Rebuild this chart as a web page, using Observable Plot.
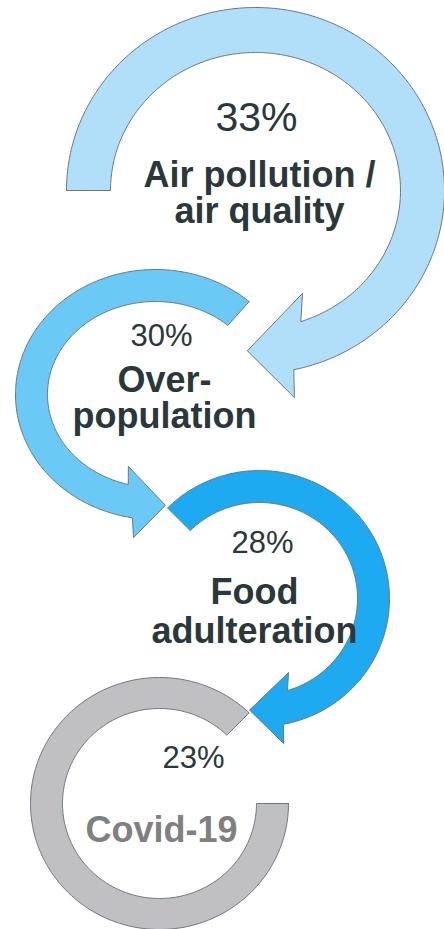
<!DOCTYPE html>
<html>
<head>
<meta charset="utf-8">
<script src="https://cdn.jsdelivr.net/npm/d3@7"></script>
<script src="https://cdn.jsdelivr.net/npm/@observablehq/plot@0.6"></script>
<style>
  html, body { margin: 0; padding: 0; background: #ffffff; }
  #chart { width: 444px; height: 929px; }
</style>
</head>
<body>
<div id="chart"></div>
<script>
// ---- data ----
const categories = ["Air pollution /\nair quality", "Over-\npopulation", "Food\nadulteration", "Covid-19"];
const values = [33, 30, 28, 23];

// ---- styles ----
const fills = ["#b1dff9", "#6bc9f6", "#1eaaf0", "#c0bfc1"];
const labelColors = ["#2b383a", "#2b383a", "#2b383a", "#808080"];
const outline = "#6a7880";

// ---- layout: curved-arrow geometry (ellipse centre, outer/inner radii, angles in degrees, screen convention) ----
const arrows = [
  {cx: 255, cy: 190, rxO: 189, ryO: 183, rxI: 145, ryI: 138, a0: 180, endOut: 438.3, endIn: 431.8,
   head: {wOutA: 439.7, wOutF: 1.15, tipA: 452.8, tipF: 1.0, wInA: 426.5, wInF: 0.813}},
  {cx: 155, cy: 394, rxO: 140, ryO: 125, rxI: 108, ryI: 93, a0: -48, endOut: -260.5, endIn: -255.4,
   head: {wOutA: -262.2, wOutF: 1.155, tipA: -274.5, tipF: 1.02, wInA: -252, wInF: 0.813}},
  {cx: 259, cy: 598, rxO: 130, ryO: 128, rxI: 98, ryI: 96, a0: 225, endOut: 439.4, endIn: 433.4,
   head: {wOutA: 440.7, wOutF: 1.148, tipA: 455, tipF: 1.0, wInA: 429, wInF: 0.826}},
  {cx: 159, cy: 803, rxO: 129, ryO: 126, rxI: 97, ryI: 95, a0: 0, endOut: 314, endIn: 314, head: null}
];

// ---- layout: text positions (centre x, baseline y of last line) ----
const pctPos = [{x: 256, y: 130, size: 41}, {x: 161, y: 345, size: 31}, {x: 262, y: 552, size: 31}, {x: 193, y: 767, size: 31}];
const labelPos = [{x: 259, y: 222, lh: 1.0}, {x: 164, y: 427, lh: 1.0}, {x: 254, y: 642, lh: 1.06}, {x: 161, y: 841, lh: 1}];

function arrowPolygon(g) {
  const pts = [];
  const P = (a, rx, ry) => ({x: g.cx + rx * Math.cos(a * Math.PI / 180), y: g.cy + ry * Math.sin(a * Math.PI / 180)});
  const arc = (a0, a1, rx, ry) => {
    const n = Math.max(2, Math.ceil(Math.abs(a1 - a0)));
    for (let i = 0; i <= n; i++) pts.push(P(a0 + (a1 - a0) * i / n, rx, ry));
  };
  arc(g.a0, g.endOut, g.rxO, g.ryO);
  if (g.head) {
    const h = g.head;
    const rxM = (g.rxO + g.rxI) / 2, ryM = (g.ryO + g.ryI) / 2;
    pts.push(P(h.wOutA, g.rxO * h.wOutF, g.ryO * h.wOutF));
    pts.push(P(h.tipA, rxM * h.tipF, ryM * h.tipF));
    pts.push(P(h.wInA, g.rxI * h.wInF, g.ryI * h.wInF));
  }
  arc(g.endIn, g.a0, g.rxI, g.ryI);
  pts.push(pts[0]);
  return pts;
}

const drawOrder = [3, 2, 1, 0];
const shapeMarks = drawOrder.map(i => Plot.line(arrowPolygon(arrows[i]), {
  x: "x", y: "y", fill: fills[i], stroke: outline, strokeWidth: 1,
  strokeLinejoin: "miter", strokeMiterlimit: 10, curve: "linear"
}));

const pctMarks = values.map((v, i) => Plot.text([{v, ...pctPos[i]}], {
  x: "x", y: "y", text: d => `${d.v}%`, fontSize: pctPos[i].size, fontWeight: 400,
  fill: "#2b383a", textAnchor: "middle", lineAnchor: "bottom"
}));

const labelMarks = categories.map((c, i) => Plot.text([{c, ...labelPos[i]}], {
  x: "x", y: "y", text: "c", fontSize: 36, fontWeight: 700,
  fill: labelColors[i], textAnchor: "middle", lineAnchor: "bottom", lineHeight: labelPos[i].lh
}));

const chart = Plot.plot({
  width: 444,
  height: 929,
  margin: 0,
  x: {domain: [0, 444], range: [0, 444], axis: null},
  y: {domain: [0, 929], range: [0, 929], axis: null},
  style: {fontFamily: "'Liberation Sans', Arial, sans-serif", background: "#ffffff"},
  marks: [...shapeMarks, ...pctMarks, ...labelMarks]
});
document.getElementById("chart").appendChild(chart);
</script>
</body>
</html>
